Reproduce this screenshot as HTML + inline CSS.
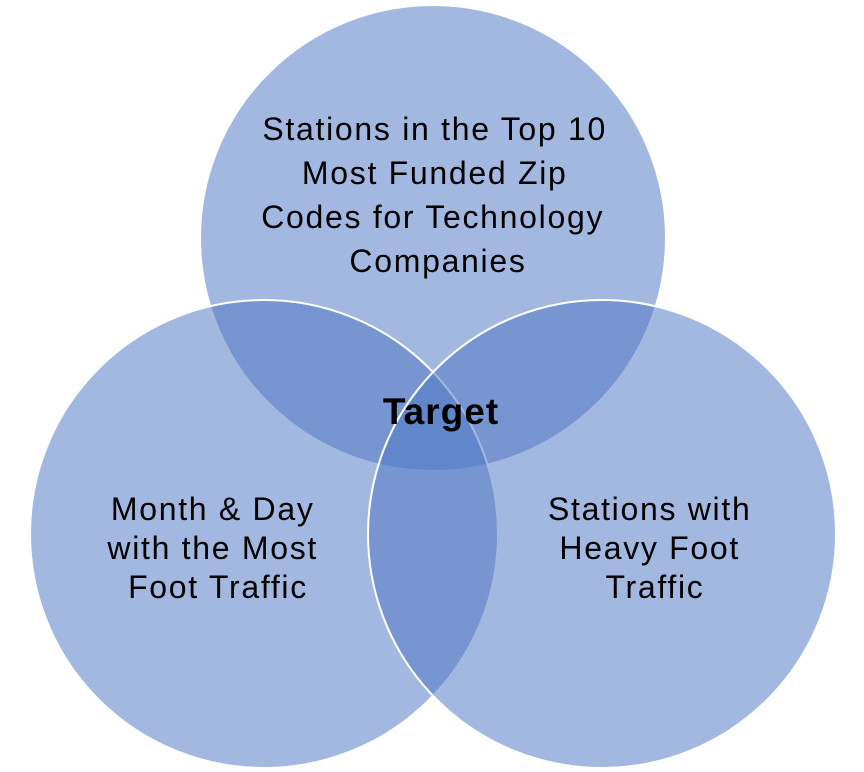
<!DOCTYPE html>
<html><head><meta charset="utf-8"><style>
html,body{margin:0;padding:0;background:#fff;}
svg{display:block;}
text{font-family:"Liberation Sans",sans-serif;fill:#000;}
</style></head><body>
<svg width="864" height="772" viewBox="0 0 864 772">
<g fill="rgb(78,119,195)" fill-opacity="0.52" stroke="#fff" stroke-width="2">
<circle cx="433" cy="238" r="233"/>
<circle cx="264" cy="534" r="234"/>
<circle cx="602" cy="534" r="234"/>
</g>
<g font-size="32" text-anchor="middle" letter-spacing="1.7">
<text>
<tspan x="440" y="140">Stations in the Top 10</tspan>
<tspan x="440" y="184">Most Funded Zip</tspan>
<tspan x="438" y="228">Codes for Technology</tspan>
<tspan x="438" y="272">Companies</tspan>
</text>
<text>
<tspan x="218" y="520">Month &amp; Day</tspan>
<tspan x="218" y="559">with the Most</tspan>
<tspan x="218" y="598">Foot Traffic</tspan>
</text>
<text>
<tspan x="655" y="520">Stations with</tspan>
<tspan x="655" y="559">Heavy Foot</tspan>
<tspan x="655" y="598">Traffic</tspan>
</text>
<text x="441" y="424" font-size="37" font-weight="bold" letter-spacing="1">Target</text>
</g>
</svg>
</body></html>
